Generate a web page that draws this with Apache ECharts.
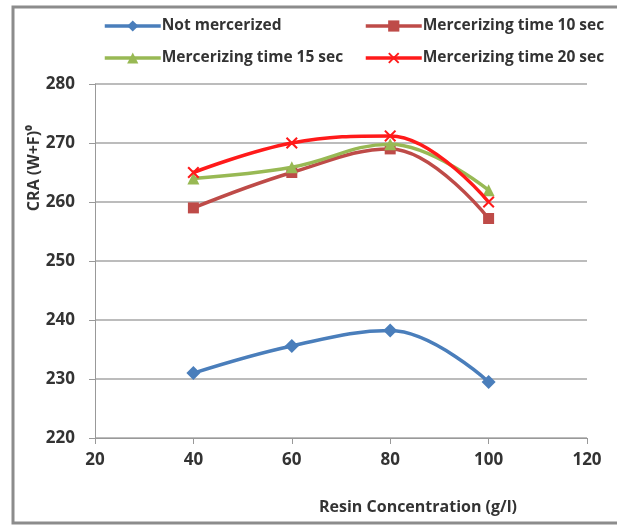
<!DOCTYPE html>
<html>
<head>
<meta charset="utf-8">
<script src="https://cdn.jsdelivr.net/npm/echarts@6/dist/echarts.min.js"></script>
<style>html,body{margin:0;padding:0;background:#fff}#c{width:617px;height:526px}</style>
</head>
<body>
<div id="c"></div>
<script>
var resinConc = [40, 60, 80, 100];
var notMercerized = [231, 235.6, 238.2, 229.5];
var merc10 = [259, 265, 269, 257.2];
var merc15 = [264, 265.9, 269.8, 262];
var merc20 = [265, 270, 271.2, 260];
var seriesNames = ['Not mercerized', 'Mercerizing time 10 sec', 'Mercerizing time 15 sec', 'Mercerizing time 20 sec'];
var xTicks = [20, 40, 60, 80, 100, 120];
var yTicks = [220, 230, 240, 250, 260, 270, 280];

function pairs(vals) { return resinConc.map(function (x, i) { return [x, vals[i]]; }); }

var FONT = 'Open Sans';
var xSymbol = 'path://M0,1.2 L1.2,0 L5,3.8 L8.8,0 L10,1.2 L6.2,5 L10,8.8 L8.8,10 L5,6.2 L1.2,10 L0,8.8 L3.8,5 Z';

var chart = echarts.init(document.getElementById('c'), null, { renderer: 'canvas' });
chart.setOption({
  animation: false,
  backgroundColor: '#fff',
  graphic: [
    { type: 'rect', shape: { x: 13, y: 7, width: 620, height: 516 }, style: { fill: 'none', stroke: '#8c8c8c', lineWidth: 3 }, z: -1 },
    { type: 'text', x: 34, y: 168, rotation: Math.PI / 2, style: { text: 'CRA (W+F)\u2070', font: 'bold 16px "Open Sans"', fill: '#333', align: 'center', verticalAlign: 'middle' } },
    { type: 'text', x: 418, y: 507, style: { text: 'Resin Concentration (g/l)', font: 'bold 16px "Open Sans"', fill: '#333', align: 'center', verticalAlign: 'middle' } }
  ],
  legend: [
    { left: 98, top: 13, orient: 'vertical', itemGap: 16, itemWidth: 56, itemHeight: 14,
      lineStyle: { width: 3.5 },
      data: [seriesNames[0], seriesNames[2]],
      textStyle: { fontFamily: FONT, fontSize: 15.5, fontWeight: 'bold', color: '#333', padding: [0, 0, 0, -4] } },
    { left: 359, top: 13, orient: 'vertical', itemGap: 16, itemWidth: 56, itemHeight: 14,
      lineStyle: { width: 3.5 },
      data: [seriesNames[1], seriesNames[3]],
      textStyle: { fontFamily: FONT, fontSize: 15.5, fontWeight: 'bold', color: '#333', padding: [0, 0, 0, -4] } }
  ],
  grid: { left: 95, right: 30, top: 84, bottom: 88, containLabel: false },
  xAxis: {
    type: 'value', min: xTicks[0], max: xTicks[xTicks.length - 1], interval: 20,
    axisLine: { show: true, lineStyle: { color: '#999', width: 1 } },
    axisTick: { show: true, length: 6, lineStyle: { color: '#999' } },
    splitLine: { show: false },
    axisLabel: { fontFamily: FONT, fontSize: 17, fontWeight: 'bold', color: '#333', margin: 14 }
  },
  yAxis: {
    type: 'value', min: yTicks[0], max: yTicks[yTicks.length - 1], interval: 10,
    axisLine: { show: true, lineStyle: { color: '#999', width: 1 } },
    axisTick: { show: true, length: 6, lineStyle: { color: '#999' } },
    splitLine: { show: true, lineStyle: { color: '#a6a6a6', width: 1.5 } },
    axisLabel: { fontFamily: FONT, fontSize: 17, fontWeight: 'bold', color: '#333', margin: 20 }
  },
  series: [
    { name: seriesNames[0], type: 'line', smooth: 0.4, data: pairs(notMercerized), symbol: 'diamond', symbolSize: 14,
      lineStyle: { color: '#4a7ebb', width: 3.5 }, itemStyle: { color: '#4a7ebb' }, z: 2 },
    { name: seriesNames[1], type: 'line', smooth: 0.4, data: pairs(merc10), symbol: 'rect', symbolSize: 11,
      lineStyle: { color: '#be4b48', width: 3.5 }, itemStyle: { color: '#be4b48' }, z: 3 },
    { name: seriesNames[2], type: 'line', smooth: 0.4, data: pairs(merc15), symbol: 'triangle', symbolSize: 12,
      lineStyle: { color: '#98b954', width: 3.5 }, itemStyle: { color: '#98b954' }, z: 4 },
    { name: seriesNames[3], type: 'line', smooth: 0.4, data: pairs(merc20), symbol: xSymbol, symbolSize: 12,
      lineStyle: { color: '#ff1a1a', width: 3.5 }, itemStyle: { color: '#ff1a1a' }, z: 5 }
  ]
});
</script>
</body>
</html>
